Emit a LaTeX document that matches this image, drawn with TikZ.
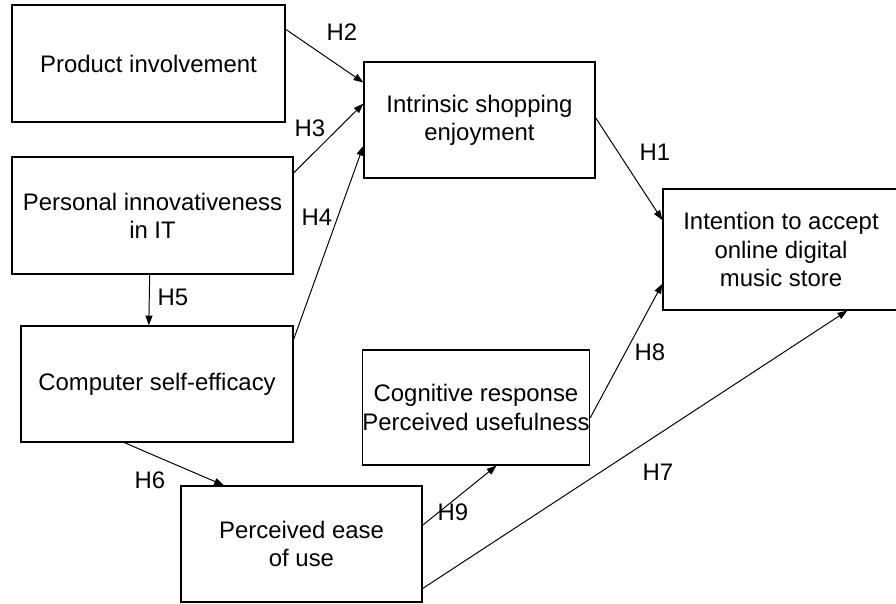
\documentclass[tikz,border=0pt]{standalone}
\usepackage{fontspec}
\setmainfont{Liberation Sans}
\usetikzlibrary{arrows.meta,calc}

\begin{document}
\begin{tikzpicture}[x=0.025cm, y=-0.025cm,
  box/.style={draw, line width=0.8pt, align=center, inner sep=0pt, font=\fontsize{17}{20}\selectfont},
  hyp/.style={font=\fontsize{17}{20}\selectfont},
  link/.style={line width=0.7pt, -{Triangle[length=7pt,width=5pt]}}]
\useasboundingbox (0,0) rectangle (896,604);
% constructs
\node[box, minimum width=6.825cm, minimum height=2.925cm] (prod) at (148.5,63.5) {Product involvement};
\node[box, minimum width=7.025cm, minimum height=2.925cm] (pers) at (152.5,215.5) {Personal innovativeness\\in IT};
\node[box, minimum width=5.775cm, minimum height=2.9cm] (intr) at (479.5,120) {Intrinsic shopping\\enjoyment};
\node[box, minimum width=6.8cm, minimum height=2.9cm] (comp) at (157,384) {Computer self-efficacy};
\node[box, minimum width=6.025cm, minimum height=2.9cm] (ease) at (301.5,544) {Perceived ease\\of use};
\node[box, minimum width=5.65cm, minimum height=2.875cm] (cogn) at (476,407.5) {Cognitive response\\Perceived usefulness};
\node[box, minimum width=5.9cm, minimum height=3.025cm] (intent) at (781,249.5) {Intention to accept\\online digital\\music store};
% paths
\draw[link] ($(intr.north east)!0.48!(intr.south east)$) -- ($(intent.north west)!0.26!(intent.south west)$);
\draw[link] ($(prod.north east)!0.21!(prod.south east)$) -- ($(intr.north west)!0.18!(intr.south west)$);
\draw[link] ($(pers.north east)!0.14!(pers.south east)$) -- ($(intr.north west)!0.36!(intr.south west)$);
\draw[link] ($(comp.north east)!0.12!(comp.south east)$) -- ($(intr.north west)!0.72!(intr.south west)$);
\draw[link] ($(pers.south west)!0.49!(pers.south east)$) -- ($(comp.north west)!0.47!(comp.north east)$);
\draw[link] ($(comp.south west)!0.38!(comp.south east)$) -- ($(ease.north west)!0.18!(ease.north east)$);
\draw[link] ($(ease.north east)!0.88!(ease.south east)$) -- ($(intent.south west)!0.78!(intent.south east)$);
\draw[link] ($(cogn.north east)!0.59!(cogn.south east)$) -- ($(intent.north west)!0.78!(intent.south west)$);
\draw[link] ($(ease.north east)!0.34!(ease.south east)$) -- ($(cogn.south west)!0.59!(cogn.south east)$);
% hypotheses
\node[hyp] (h1) at (655,152) {H1};
\node[hyp] (h2) at (342,32) {H2};
\node[hyp] (h3) at (310,128) {H3};
\node[hyp] (h4) at (317,217) {H4};
\node[hyp] (h5) at (173,297) {H5};
\node[hyp] (h6) at (150,480) {H6};
\node[hyp] (h7) at (658,472) {H7};
\node[hyp] (h8) at (650,352) {H8};
\node[hyp] (h9) at (453,512) {H9};
\end{tikzpicture}
\end{document}
